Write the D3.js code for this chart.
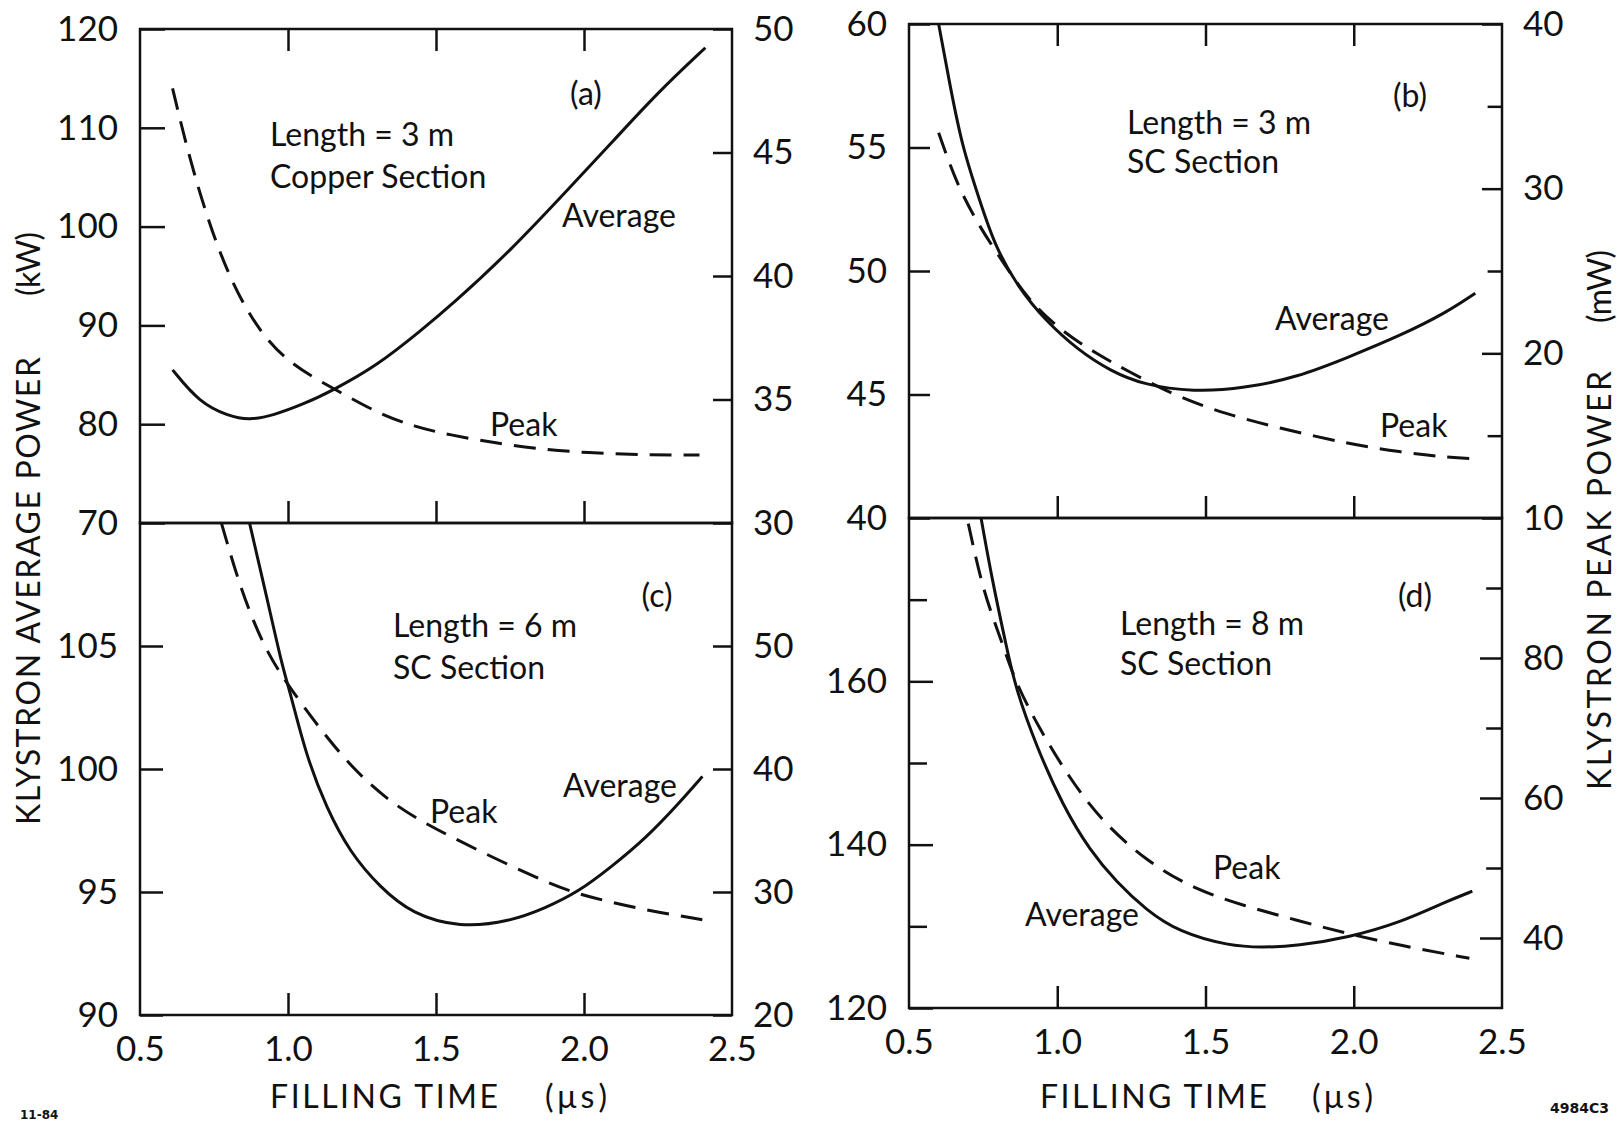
<!DOCTYPE html>
<html>
<head>
<meta charset="utf-8">
<script src="https://cdn.jsdelivr.net/npm/d3@7"></script>
<style>
  body { margin: 0; background: #fff; }
  #chart text { font-family: Lato, "Open Sans", sans-serif; font-weight: 400; fill: #111; }
</style>
</head>
<body>
<svg id="chart" width="1617" height="1122"></svg>
<script>
// ---- values ----
const xTickVals = [0.5, 1.0, 1.5, 2.0, 2.5];
const xInnerTicks = [1.0, 1.5, 2.0];

// (a) length 3 m, copper section
const timeAvgA = [0.61, 0.70, 0.80, 0.87, 0.95, 1.05, 1.15, 1.30, 1.45, 1.55, 1.75, 1.95, 2.10, 2.25, 2.41];
const avgA     = [85.5, 82.2, 80.8, 80.4, 80.9, 82.0, 83.4, 85.9, 89.5, 92.0, 97.5, 103.9, 108.7, 113.6, 118.1];
const timePeakA = [0.61, 0.67, 0.76, 0.86, 0.98, 1.16, 1.31, 1.43, 1.53, 1.76, 1.98, 2.21, 2.39];
const peakA     = [47.6, 44.6, 41.1, 38.5, 36.6, 35.4, 34.4, 33.9, 33.6, 33.1, 32.85, 32.75, 32.75];

// (b) length 3 m, SC section
const timeAvgB = [0.60, 0.64, 0.68, 0.74, 0.79, 0.87, 0.96, 1.07, 1.18, 1.29, 1.46, 1.63, 1.81, 1.98, 2.16, 2.31, 2.41];
const avgB     = [60, 57.4, 55.0, 52.8, 51.0, 49.3, 48.0, 46.8, 45.95, 45.4, 45.1, 45.25, 45.7, 46.5, 47.4, 48.3, 49.1];
const timePeakB = [0.60, 0.66, 0.74, 0.83, 0.90, 1.01, 1.13, 1.24, 1.40, 1.57, 1.74, 1.98, 2.16, 2.30, 2.41];
const peakB     = [33.4, 30.3, 27.6, 25.2, 23.3, 21.4, 20.0, 18.9, 17.4, 16.3, 15.5, 14.5, 14.0, 13.7, 13.6];

// (c) length 6 m, SC section
const timeAvgC = [0.87, 0.93, 0.98, 1.01, 1.06, 1.13, 1.21, 1.31, 1.42, 1.58, 1.75, 1.87, 1.98, 2.09, 2.21, 2.32, 2.40];
const avgC     = [110, 106.9, 104.2, 103.0, 100.6, 98.4, 96.6, 95.2, 94.1, 93.55, 93.8, 94.35, 95.0, 96.0, 97.2, 98.6, 99.7];
const timePeakC = [0.775, 0.84, 0.92, 1.00, 1.11, 1.22, 1.34, 1.46, 1.64, 1.87, 1.98, 2.20, 2.40];
const peakC     = [60, 54.6, 49.8, 46.8, 43.2, 40.0, 37.4, 35.6, 33.4, 30.8, 29.8, 28.55, 27.75];

// (d) length 8 m, SC section
const timeAvgD = [0.743, 0.78, 0.83, 0.86, 0.93, 1.02, 1.11, 1.20, 1.30, 1.41, 1.58, 1.69, 1.81, 1.98, 2.16, 2.31, 2.40];
const avgD     = [180, 172.5, 164.0, 159.1, 152.0, 144.7, 139.3, 135.4, 132.0, 129.3, 127.6, 127.4, 127.6, 128.6, 130.5, 133.0, 134.3];
const timePeakD = [0.70, 0.75, 0.81, 0.86, 0.94, 1.04, 1.15, 1.30, 1.46, 1.63, 1.81, 1.98, 2.16, 2.39];
const peakD     = [99.2, 89.5, 82.7, 76.4, 69.9, 62.9, 56.7, 51.0, 47.0, 44.6, 42.5, 40.6, 38.9, 37.1];

// axis tick values (major ticks get labels)
const leftA = [70, 80, 90, 100, 110, 120],  rightA = [30, 35, 40, 45, 50];
const leftB = [40, 45, 50, 55, 60],         rightB = [10, 20, 30, 40], rightMinorB = [15, 25, 35];
const leftC = [90, 95, 100, 105],           rightC = [20, 30, 40, 50];
const leftD = [120, 140, 160],              leftMinorD = [130, 150, 170];
const rightD = [40, 60, 80],                rightMinorD = [50, 70, 90];

// ---- layout ----
const svg = d3.select("#chart");
const INK = "#111";

const panels = [
  { id: "a", l: 140, t: 29, r: 732, b: 523, yL: [70, 120], yR: [30, 50],
    left: leftA, leftMinor: [], lenL: 25, right: rightA, rightMinor: [], lenR: 19,
    top: true, xLabels: false,
    avg: [timeAvgA, avgA], peak: [timePeakA, peakA],
    notes: [["(a)", 586, 105, "middle"], ["Length = 3 m", 270, 146], ["Copper Section", 270, 188],
            ["Average", 562, 227], ["Peak", 490, 436]] },
  { id: "b", l: 909, t: 24, r: 1502, b: 518, yL: [40, 60], yR: [10, 40],
    left: leftB, leftMinor: [], lenL: 21, right: rightB, rightMinor: rightMinorB, lenR: 20,
    top: true, xLabels: false,
    avg: [timeAvgB, avgB], peak: [timePeakB, peakB],
    notes: [["(b)", 1410, 107, "middle"], ["Length = 3 m", 1127, 134], ["SC Section", 1127, 173],
            ["Average", 1275, 330], ["Peak", 1380, 437]] },
  { id: "c", l: 140, t: 523, r: 732, b: 1015, yL: [90, 110], yR: [20, 60],
    left: leftC, leftMinor: [], lenL: 23, right: rightC, rightMinor: [], lenR: 19,
    top: false, xLabels: true,
    avg: [timeAvgC, avgC], peak: [timePeakC, peakC],
    notes: [["(c)", 657, 607, "middle"], ["Length = 6 m", 393, 637], ["SC Section", 393, 679],
            ["Average", 563, 797], ["Peak", 430, 823]] },
  { id: "d", l: 909, t: 518, r: 1502, b: 1008, yL: [120, 180], yR: [30, 100],
    left: leftD, leftMinor: leftMinorD, lenL: 24, right: rightD, rightMinor: rightMinorD, lenR: 22,
    top: false, xLabels: true,
    avg: [timeAvgD, avgD], peak: [timePeakD, peakD],
    notes: [["(d)", 1415, 607, "middle"], ["Length = 8 m", 1120, 635], ["SC Section", 1120, 675],
            ["Average", 1025, 926], ["Peak", 1213, 879]] }
];

function styleAxis(g, size) {
  g.select(".domain").remove();
  g.selectAll("line").attr("stroke", INK).attr("stroke-width", 2.5);
  g.selectAll("text").style("font-size", size + "px").attr("fill", INK);
}

panels.forEach(p => {
  const w = p.r - p.l, h = p.b - p.t;
  const x = d3.scaleLinear().domain([0.5, 2.5]).range([0, w]);
  const yL = d3.scaleLinear().domain(p.yL).range([h, 0]);
  const yR = d3.scaleLinear().domain(p.yR).range([h, 0]);

  const g = svg.append("g").attr("transform", `translate(${p.l},${p.t})`);

  svg.append("clipPath").attr("id", "clip-" + p.id)
    .append("rect").attr("width", w).attr("height", h);

  // left axis
  g.append("g").call(d3.axisLeft(yL).tickValues(p.left).tickSize(-p.lenL).tickPadding(22).tickFormat(d3.format("d")))
    .call(s => styleAxis(s, 35));
  if (p.leftMinor.length)
    g.append("g").call(d3.axisLeft(yL).tickValues(p.leftMinor).tickSize(-p.lenL * 0.75).tickFormat(""))
      .call(s => styleAxis(s, 35));

  // right axis
  g.append("g").attr("transform", `translate(${w},0)`)
    .call(d3.axisRight(yR).tickValues(p.right).tickSize(-p.lenR).tickPadding(21).tickFormat(d3.format("d")))
    .call(s => styleAxis(s, 35));
  if (p.rightMinor.length)
    g.append("g").attr("transform", `translate(${w},0)`)
      .call(d3.axisRight(yR).tickValues(p.rightMinor).tickSize(-p.lenR * 0.72).tickFormat(""))
      .call(s => styleAxis(s, 35));

  // x ticks
  if (p.top)
    g.append("g").call(d3.axisTop(x).tickValues(xInnerTicks).tickSize(-22).tickFormat(""))
      .call(s => styleAxis(s, 35));
  g.append("g").attr("transform", `translate(0,${h})`)
    .call(d3.axisBottom(x).tickValues(xInnerTicks).tickSize(-22).tickFormat(""))
    .call(s => styleAxis(s, 35));
  if (p.xLabels)
    g.append("g").attr("transform", `translate(0,${h})`)
      .call(d3.axisBottom(x).tickValues(xTickVals).tickSize(0).tickPadding(21).tickFormat(d3.format(".1f")))
      .call(s => styleAxis(s, 35));

  // frame
  g.append("rect").attr("width", w).attr("height", h)
    .attr("fill", "none").attr("stroke", INK).attr("stroke-width", 2.5);

  // curves
  const curves = g.append("g").attr("clip-path", `url(#clip-${p.id})`);
  const avgLine = d3.line().x(d => x(d[0])).y(d => yL(d[1])).curve(d3.curveBasis);
  const peakLine = d3.line().x(d => x(d[0])).y(d => yR(d[1])).curve(d3.curveBasis);

  curves.append("path")
    .datum(d3.zip(p.avg[0], p.avg[1]))
    .attr("d", avgLine)
    .attr("fill", "none").attr("stroke", INK).attr("stroke-width", 3);

  curves.append("path")
    .datum(d3.zip(p.peak[0], p.peak[1]))
    .attr("d", peakLine)
    .attr("fill", "none").attr("stroke", INK).attr("stroke-width", 3)
    .attr("stroke-dasharray", "22,12");

  // notes
  svg.selectAll(null).data(p.notes).join("text")
    .attr("x", d => d[1]).attr("y", d => d[2])
    .attr("text-anchor", d => d[3] || "start")
    .style("font-size", "32px")
    .text(d => d[0]);
});

// axis titles
function title(txt, x, y, len, rot) {
  svg.append("text")
    .attr("transform", `translate(${x},${y})` + (rot ? " rotate(-90)" : ""))
    .attr("textLength", len).attr("lengthAdjust", "spacing")
    .style("font-size", "32px")
    .text(txt);
}
title("KLYSTRON AVERAGE POWER", 40, 825, 468, true);
title("(kW)", 40, 296, 64, true);
title("KLYSTRON PEAK POWER", 1611, 790, 419, true);
title("(mW)", 1611, 323, 73, true);
title("FILLING TIME", 270, 1108, 228, false);
title("(\u03bcs)", 545, 1108, 62, false);
title("FILLING TIME", 1040, 1108, 227, false);
title("(\u03bcs)", 1312, 1108, 61, false);

// plate numbers
svg.append("text").attr("x", 20).attr("y", 1119).text("11-84")
  .style("font-size", "12px").style("font-weight", 700).style("font-family", "'DejaVu Sans', sans-serif");
svg.append("text").attr("x", 1550).attr("y", 1113).text("4984C3")
  .style("font-size", "14px").style("font-weight", 700).style("font-family", "'DejaVu Sans', sans-serif");
</script>
</body>
</html>
